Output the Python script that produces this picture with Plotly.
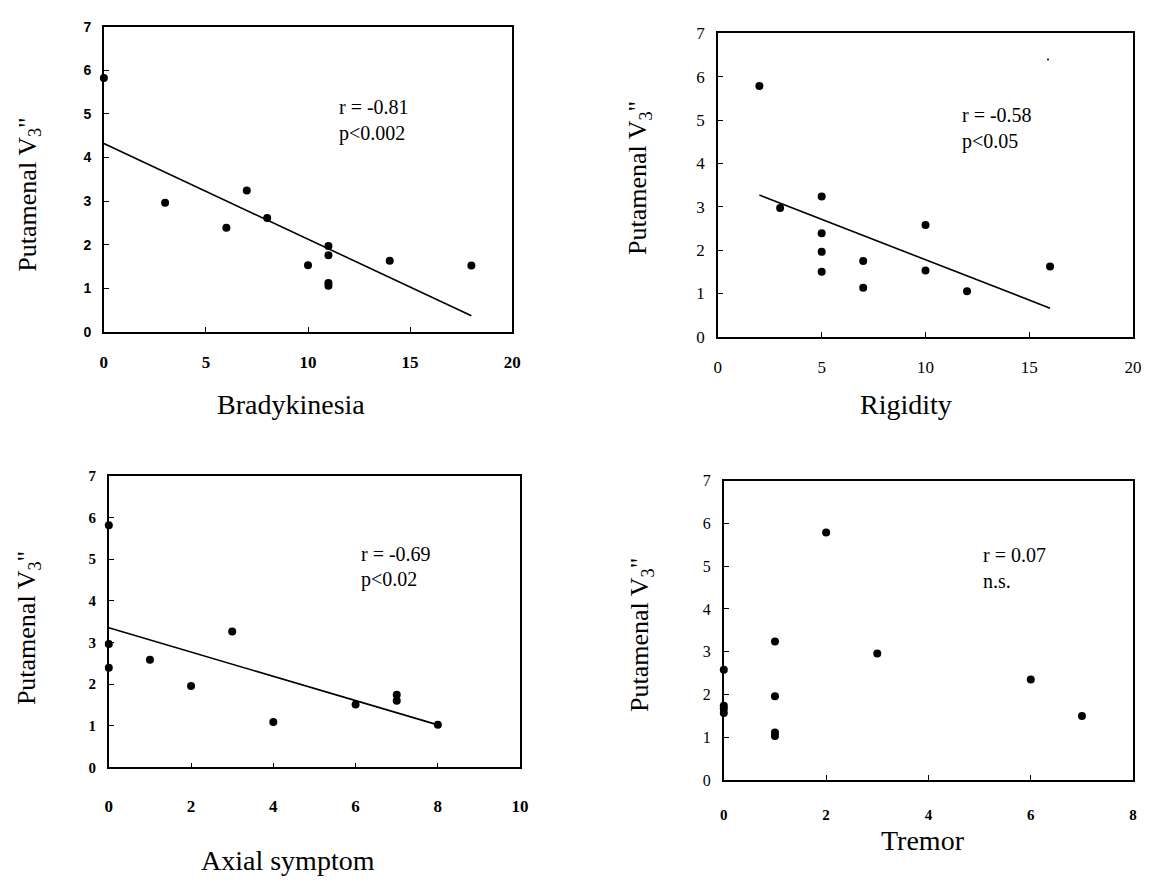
import plotly.graph_objects as go

W, H = 1153, 884

# ---------------- data ----------------
y_title = 'Putamenal V<sub>3</sub>"'

brady_x = [0, 3, 6, 7, 8, 10, 11, 11, 11, 11, 14, 18]
brady_y = [5.82, 2.96, 2.39, 3.24, 2.61, 1.53, 1.97, 1.76, 1.12, 1.06, 1.63, 1.52]
brady_fit_x = [0, 18]
brady_fit_y = [4.32, 0.37]

rigid_x = [2, 3, 5, 5, 5, 5, 7, 7, 10, 10, 12, 16]
rigid_y = [5.79, 2.97, 3.24, 2.39, 1.96, 1.50, 1.75, 1.13, 2.58, 1.53, 1.05, 1.62]
rigid_fit_x = [2, 16]
rigid_fit_y = [3.27, 0.66]
rigid_speck_x = [15.9]
rigid_speck_y = [6.40]

axial_x = [0, 0, 0, 1, 2, 3, 4, 6, 7, 7, 8]
axial_y = [5.81, 2.96, 2.39, 2.58, 1.95, 3.26, 1.09, 1.51, 1.74, 1.60, 1.02]
axial_fit_x = [0, 8]
axial_fit_y = [3.35, 1.02]

tremor_x = [0, 0, 0, 0, 1, 1, 1, 1, 2, 3, 6, 7]
tremor_y = [2.58, 1.74, 1.67, 1.57, 3.24, 1.96, 1.11, 1.03, 5.79, 2.96, 2.35, 1.50]

x_titles = ["Bradykinesia", "Rigidity", "Axial symptom", "Tremor"]
stats = [("r = -0.81", "p<0.002"), ("r = -0.58", "p<0.05"),
         ("r = -0.69", "p<0.02"), ("r = 0.07", "n.s.")]
x_ranges = [[0, 20], [0, 20], [0, 10], [0, 8]]
x_dticks = [5, 5, 2, 2]

# ---------------- layout helpers ----------------
def px(x):
    return x / W

def py(y):
    return 1 - y / H

# plot boxes in pixels: (left, right, top, bottom)
boxes = [(101, 514, 18, 330), (722, 1142, 25, 335),
         (106, 522, 477, 775), (728, 1142, 482, 788)]

SERIF = "Liberation Serif, Times New Roman, serif"
SANS = "Liberation Sans, Arial, sans-serif"

fig = go.Figure()

def add_points(xs, ys, i, size=8):
    fig.add_trace(go.Scatter(
        x=xs, y=ys, mode="markers", cliponaxis=False,
        marker=dict(color="black", size=size),
        xaxis=f"x{i if i > 1 else ''}", yaxis=f"y{i if i > 1 else ''}"))

def add_fit(xs, ys, i):
    fig.add_trace(go.Scatter(
        x=xs, y=ys, mode="lines", cliponaxis=False,
        line=dict(color="black", width=1.6),
        xaxis=f"x{i if i > 1 else ''}", yaxis=f"y{i if i > 1 else ''}"))

add_fit(brady_fit_x, brady_fit_y, 1)
add_points(brady_x, brady_y, 1)
add_fit(rigid_fit_x, rigid_fit_y, 2)
add_points(rigid_x, rigid_y, 2)
add_points(rigid_speck_x, rigid_speck_y, 2, size=2)
add_fit(axial_fit_x, axial_fit_y, 3)
add_points(axial_x, axial_y, 3)
add_points(tremor_x, tremor_y, 4)

# tick fonts per panel (x, y)
tick_fonts = [
    (dict(family=SERIF, size=17, color="black", weight="bold"),
     dict(family=SANS, size=14, color="black", weight="bold")),
    (dict(family=SERIF, size=17, color="black"),
     dict(family=SERIF, size=17, color="black")),
    (dict(family=SERIF, size=17, color="black", weight="bold"),
     dict(family=SERIF, size=15, color="black", weight="bold")),
    (dict(family=SERIF, size=15, color="black", weight="bold"),
     dict(family=SERIF, size=16, color="black")),
]
x_standoff = [14, 14, 22, 20]

layout = dict(width=W, height=H, margin=dict(l=0, r=0, t=0, b=0),
              paper_bgcolor="white", plot_bgcolor="white", showlegend=False)

for i, (l, r, t, b) in enumerate(boxes):
    sfx = "" if i == 0 else str(i + 1)
    common = dict(showline=True, linecolor="black", linewidth=1.6, mirror=True,
                  ticks="inside", ticklen=5, tickcolor="black", tickwidth=1,
                  showgrid=False, zeroline=False, fixedrange=True)
    layout["xaxis" + sfx] = dict(common, domain=[px(l), px(r)], range=x_ranges[i],
                                 dtick=x_dticks[i], tick0=0, anchor="y" + sfx,
                                 tickfont=tick_fonts[i][0],
                                 ticklabelstandoff=x_standoff[i])
    layout["yaxis" + sfx] = dict(common, domain=[py(b), py(t)], range=[0, 7],
                                 dtick=1, tick0=0, anchor="x" + sfx,
                                 tickfont=tick_fonts[i][1],
                                 ticklabelstandoff=8)

fig.update_layout(**layout)

# annotations: stats text
stat_pos = [(337, 100, 127), (967, 108, 135), (359, 557, 583), (988, 558, 585)]
for (t1, t2), (x, y1, y2) in zip(stats, stat_pos):
    for txt, yy in ((t1, y1), (t2, y2)):
        fig.add_annotation(text=txt, x=px(x), y=py(yy), xref="paper", yref="paper",
                           xanchor="left", yanchor="middle", showarrow=False,
                           font=dict(family=SERIF, size=20, color="black"))

# x titles
xt_pos = [(290, 404), (912, 404), (287, 870), (929, 850)]
for txt, (x, y) in zip(x_titles, xt_pos):
    fig.add_annotation(text=txt, x=px(x), y=py(y), xref="paper", yref="paper",
                       xanchor="center", yanchor="middle", showarrow=False,
                       font=dict(family=SERIF, size=28, color="black"))

# y titles
yt_pos = [(25, 190), (643, 173), (25, 633), (645, 640)]
for (x, y) in yt_pos:
    fig.add_annotation(text=y_title, x=px(x), y=py(y), xref="paper", yref="paper",
                       xanchor="center", yanchor="middle", showarrow=False,
                       textangle=-90,
                       font=dict(family=SERIF, size=26, color="black"))

fig.write_html("out.html", config={"displayModeBar": False},
               post_script="document.body.style.margin='0';")
